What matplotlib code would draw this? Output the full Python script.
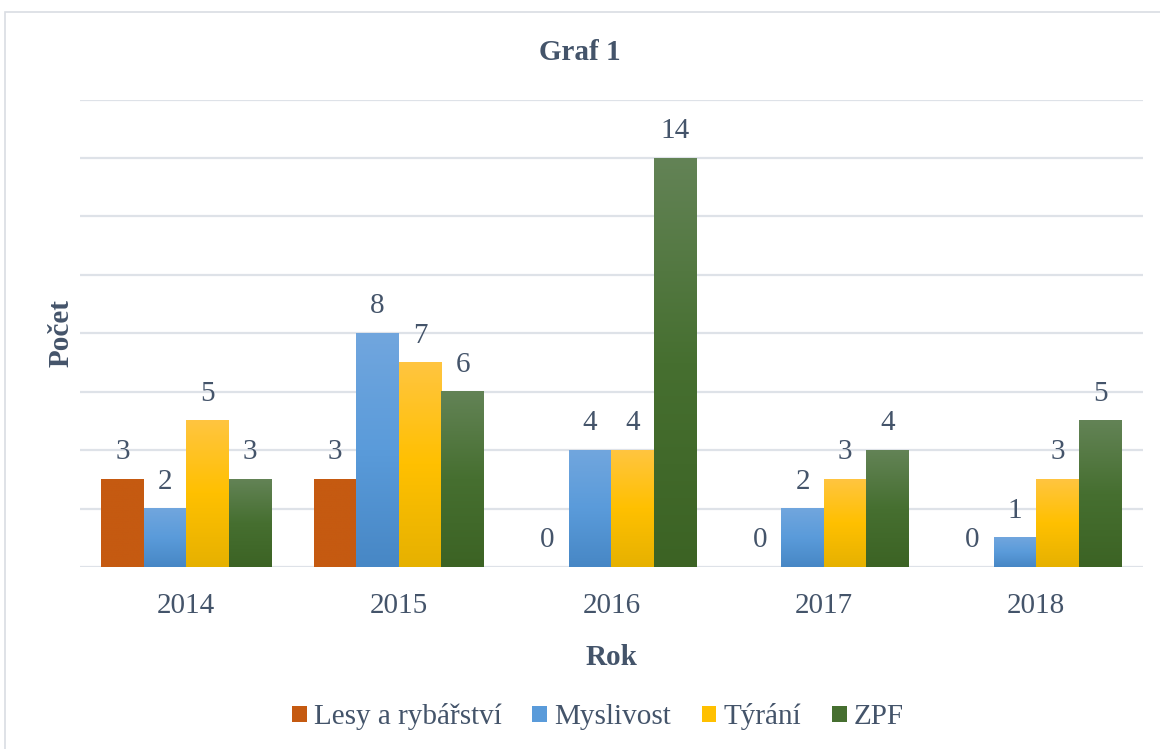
import numpy as np
import matplotlib
matplotlib.use("Agg")
import matplotlib.pyplot as plt
from matplotlib.colors import LinearSegmentedColormap
from matplotlib.patches import Rectangle

years = ["2014", "2015", "2016", "2017", "2018"]
series_names = ["Lesy a rybářství", "Myslivost", "Týrání", "ZPF"]
lesy = [3, 3, 0, 0, 0]
myslivost = [2, 8, 4, 2, 1]
tyrani = [5, 7, 4, 3, 3]
zpf = [3, 6, 14, 4, 5]

text_color = "#44546A"
grid_color = "#DEE2E8"
# gradient stops (top, middle, bottom) for each series
gradients = [
    ["#C55A11", "#C55A11", "#C55A11"],
    ["#71A6DE", "#5A9BDA", "#4787C5"],
    ["#FFC540", "#FFC000", "#E6B100"],
    ["#638356", "#466F30", "#3C6324"],
]

plt.rcParams["font.family"] = ["Liberation Serif", "DejaVu Serif"]

fig = plt.figure(figsize=(11.6, 7.49), dpi=100)
ax = fig.add_axes([0.069, 0.243, 0.916, 0.624])

# light frame around the chart
fig.patches.append(Rectangle((0.004, -0.01), 1.1, 0.994, transform=fig.transFigure,
                             fill=False, edgecolor="#D9DDE3", linewidth=1.2))

x = np.arange(len(years))
width = 0.2
all_values = [lesy, myslivost, tyrani, zpf]
handles = []
for i, (name, vals, stops) in enumerate(zip(series_names, all_values, gradients)):
    offs = (i - 1.5) * width
    bars = ax.bar(x + offs, vals, width, color=stops[1], label=name, zorder=2)
    cmap = LinearSegmentedColormap.from_list(name, stops[::-1])
    grad = np.linspace(0, 1, 256).reshape(-1, 1)
    for b in bars:
        h = b.get_height()
        if h > 0:
            x0 = b.get_x()
            ax.imshow(grad, extent=(x0, x0 + b.get_width(), 0, h), origin="lower",
                      cmap=cmap, aspect="auto", zorder=3)
        ax.annotate(f"{h:g}", (b.get_x() + b.get_width() / 2, h),
                    xytext=(0, 10), textcoords="offset points", ha="center",
                    va="bottom", fontsize=21, color=text_color)
    handles.append(Rectangle((0, 0), 1, 1, facecolor=stops[1]))

ax.set_xlim(-0.5, len(years) - 0.5)
ax.set_ylim(0, 16)
ax.set_yticks(np.arange(0, 17, 2))
ax.set_yticklabels([])
ax.tick_params(axis="y", length=0, pad=0)
ax.tick_params(axis="x", length=0, labelsize=21, labelcolor=text_color, pad=19)
ax.set_xticks(x)
ax.set_xticklabels(years)
ax.grid(axis="y", color=grid_color, linewidth=1.6, zorder=0)
ax.set_axisbelow(True)
for s in ax.spines.values():
    s.set_visible(False)

ax.set_xlabel("Rok", fontsize=21, fontweight="bold", color=text_color, labelpad=18)
ax.set_ylabel("Počet", fontsize=21, fontweight="bold", color=text_color, labelpad=4)
fig.text(0.5, 0.93, "Graf 1", ha="center", va="center", fontsize=21,
         fontweight="bold", color=text_color)

fig.legend(handles, series_names, loc="center", bbox_to_anchor=(0.5155, 0.043), ncol=4,
           frameon=False, fontsize=21, labelcolor=text_color, handlelength=0.5,
           handleheight=0.5, handletextpad=0.25, columnspacing=1.05)

fig.savefig("out.png", dpi=100)
